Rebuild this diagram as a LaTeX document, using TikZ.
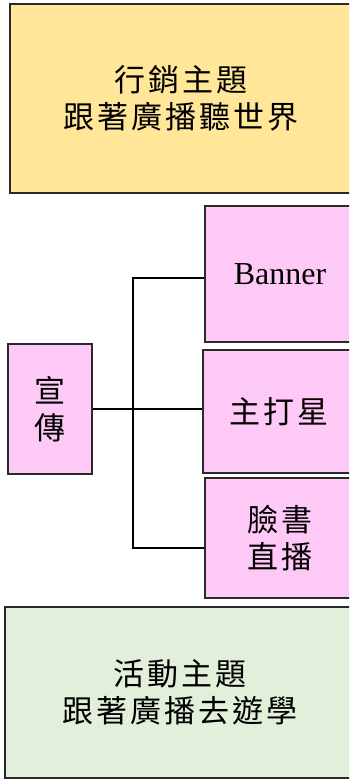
\documentclass[tikz,border=0pt]{standalone}
\usepackage{fontspec}
\newfontfamily\cjk[LetterSpace=10]{Noto Sans CJK TC}
\newfontfamily\bannerfont{Liberation Serif}
\definecolor{boxyellow}{HTML}{FFE699}
\definecolor{boxpink}{HTML}{FFC9F7}
\definecolor{boxgreen}{HTML}{E2EFDA}
\definecolor{edge}{HTML}{2A2A2A}
\begin{document}
\begin{tikzpicture}[x=1pt,y=-1pt,
  box/.style={draw=edge,line width=2pt,rectangle,inner sep=0pt,align=center,
    font=\cjk\fontsize{31}{37}\selectfont},
  link/.style={draw=black,line width=1.4pt}]
\useasboundingbox (0,0) rectangle (349,779);
\clip (0,0) rectangle (349,779);
% top theme
\node[box,fill=boxyellow,minimum width=342pt,minimum height=189pt] (top) at (181,98.5)
  {行銷主題\\跟著廣播聽世界};
% right column
\node[box,fill=boxpink,minimum width=150pt,minimum height=136pt] (banner) at (280,274)
  {\bannerfont\fontsize{32}{36}\selectfont Banner};
\node[box,fill=boxpink,minimum width=152pt,minimum height=123pt] (star) at (279,411.5)
  {主打星};
\node[box,fill=boxpink,minimum width=150pt,minimum height=120pt] (fb) at (280,538)
  {臉書\\直播};
% left
\node[box,fill=boxpink,minimum width=84pt,minimum height=130pt] (xuan) at (50,409)
  {宣\\傳};
% bottom theme
\node[box,fill=boxgreen,minimum width=350pt,minimum height=171pt] (bottom) at (180,692.5)
  {活動主題\\跟著廣播去遊學};
% connectors
\coordinate (ttop) at (133,278);
\coordinate (tbot) at (133,548);
\draw[link] (xuan.east) -- (xuan.east -| star.west);
\draw[link] (banner.west |- ttop) -- (ttop) -- (tbot) -- (fb.west |- tbot);
\end{tikzpicture}
\end{document}
